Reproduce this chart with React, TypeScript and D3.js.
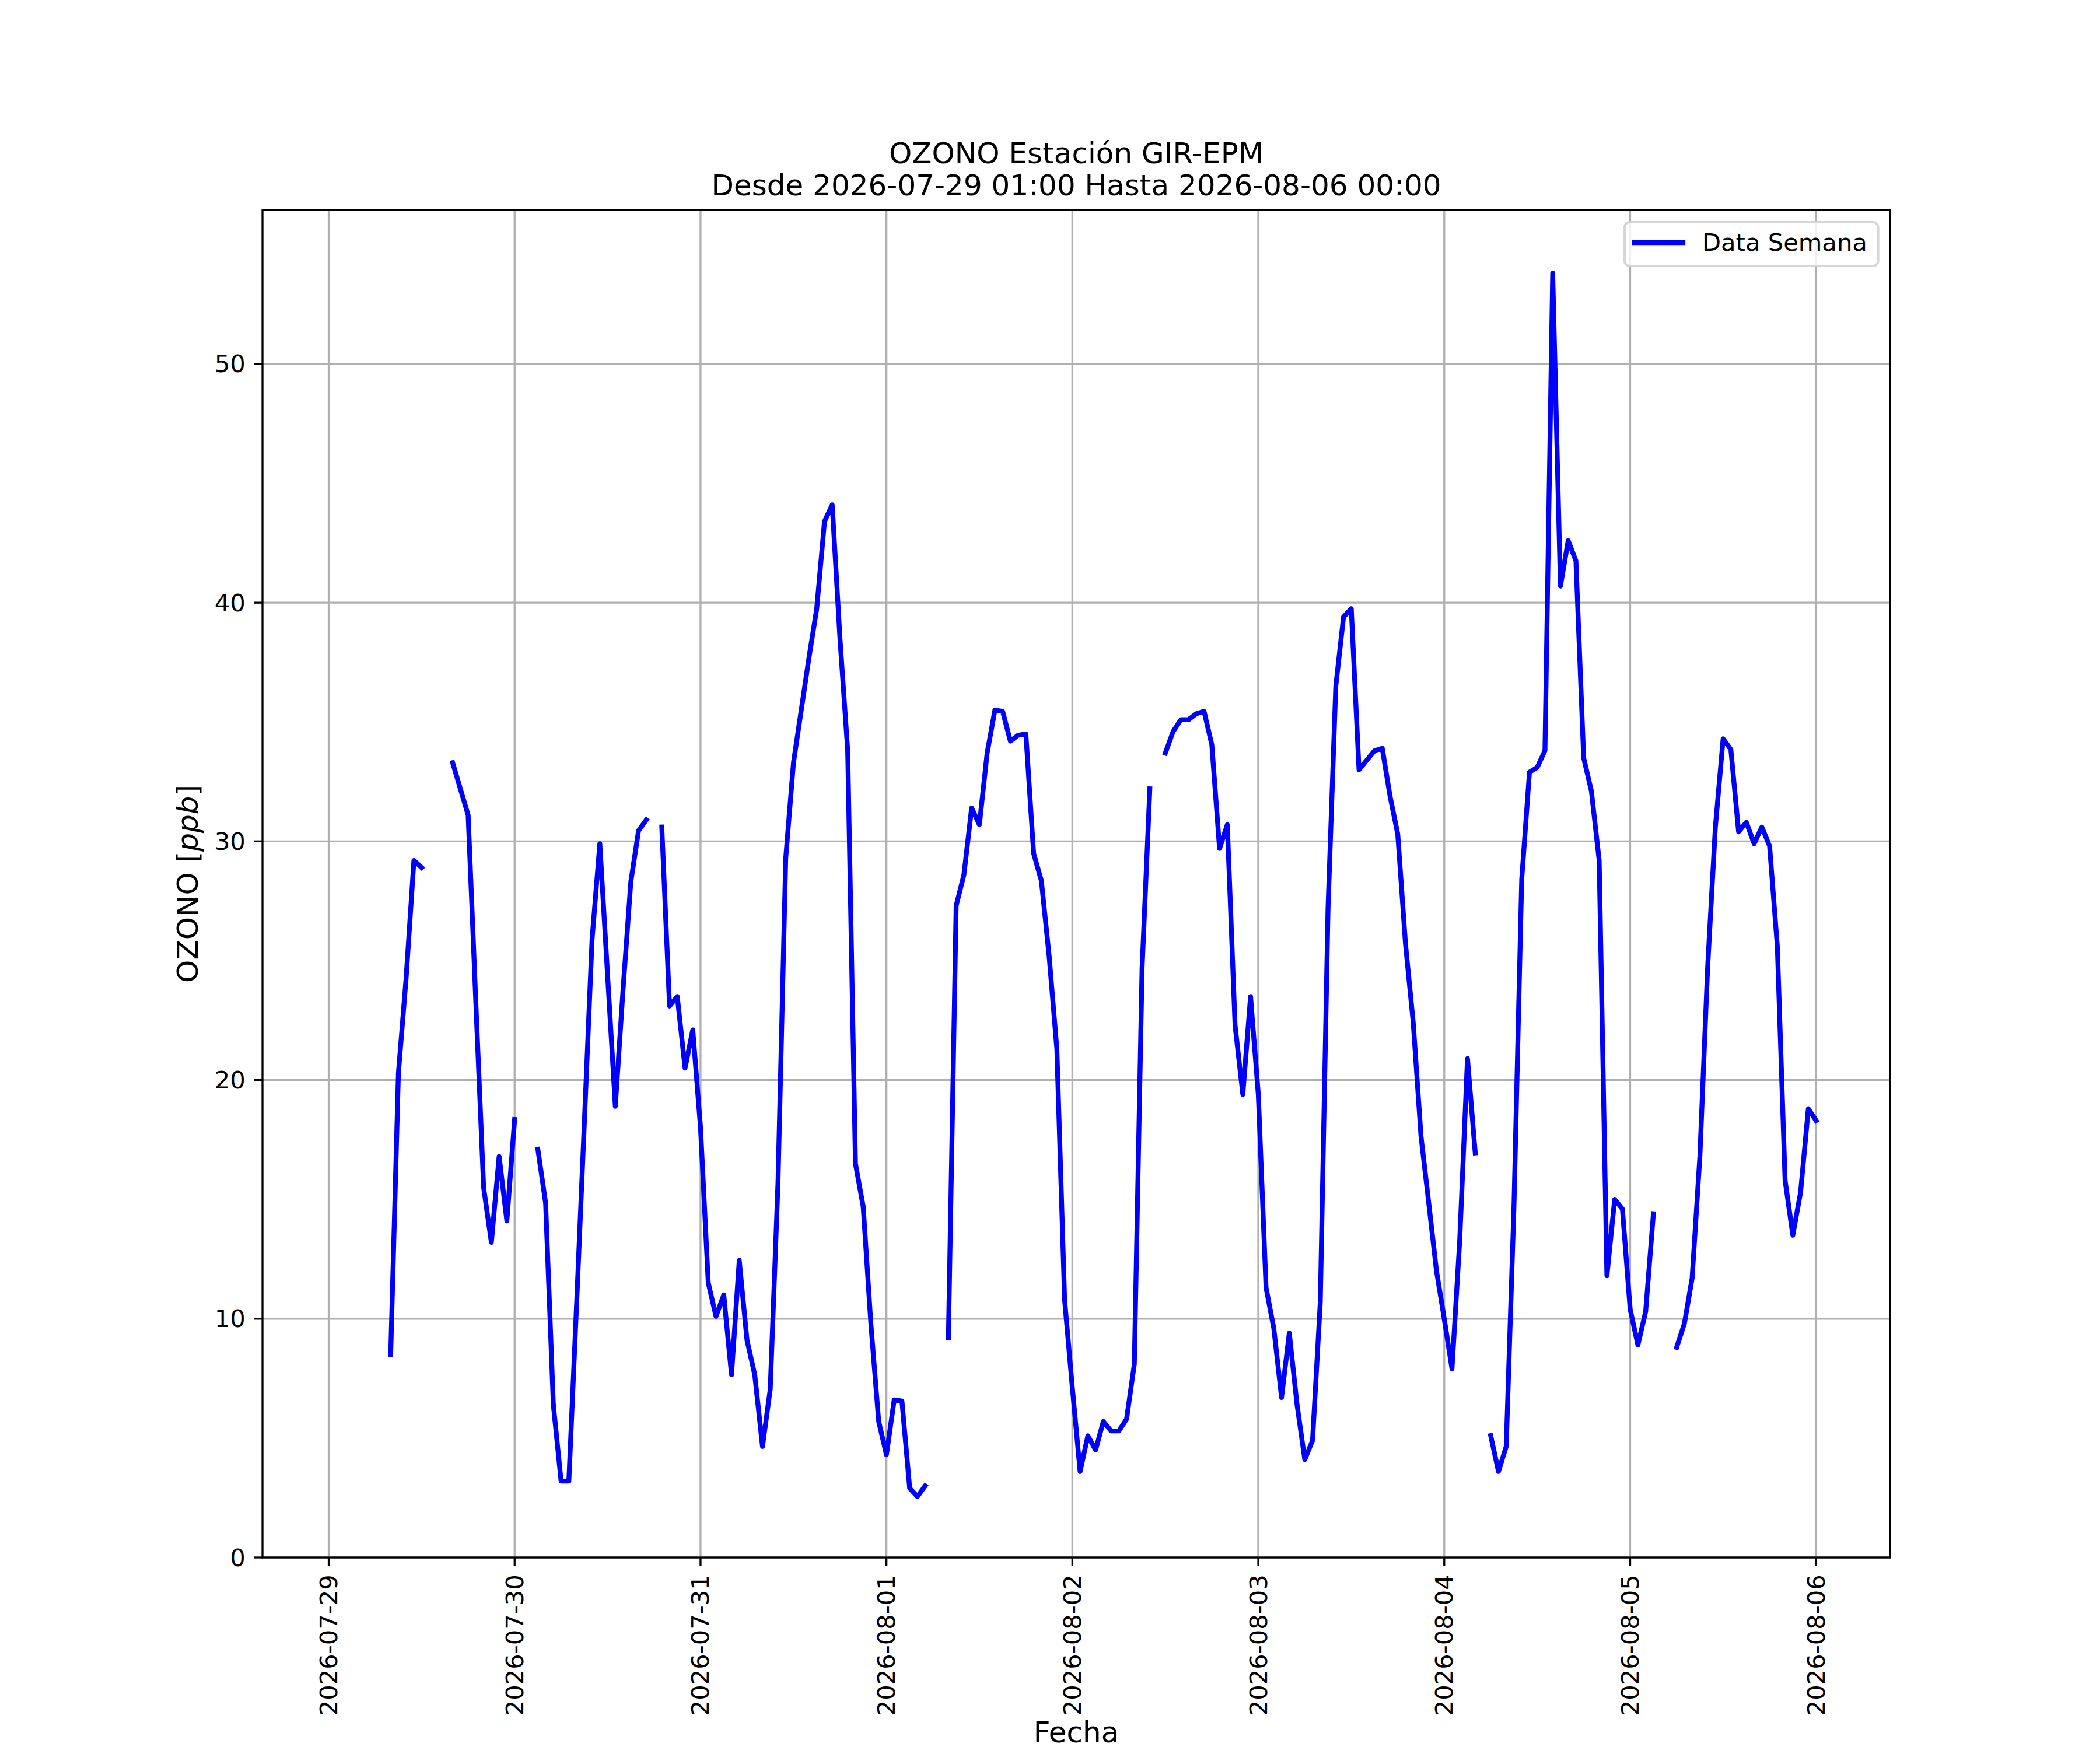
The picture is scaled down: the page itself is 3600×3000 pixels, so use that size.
import React from "react";
import * as d3 from "d3";

// ---- Data (hourly, starting 2026-07-29 01:00 UTC-naive) ----
const startTime = Date.UTC(2026, 6, 29, 1, 0);
const endTime = Date.UTC(2026, 7, 6, 0, 0);

// OZONO [ppb], one value per hour, null = missing
const ozoneValues: (number | null)[] = [
  // 07-29 01..07
  null, null, null, null, null, null, null,
  // 08..12
  8.5, 20.3, 24.3, 29.2, 28.9,
  // 13..15
  null, null, null,
  // 16..24
  33.3, 32.2, 31.1, 23.2, 15.5, 13.2, 16.8, 14.1, 18.35,
  // 07-30 01..02
  null, null,
  // 03..17
  17.1, 14.85, 6.4, 3.2, 3.2, 10.6, 18.2, 25.9, 29.9, 24.4, 18.9, 23.8, 28.3, 30.45, 30.9,
  // 18
  null,
  // 19..24
  30.6, 23.1, 23.5, 20.5, 22.1, 18.0,
  // 07-31 01..24
  11.5, 10.1, 11.0, 7.65, 12.45, 9.1, 7.65, 4.65, 7.05, 15.7, 29.3, 33.3,
  35.5, 37.7, 39.75, 43.4, 44.1, 38.5, 33.8, 16.5, 14.7, 9.75, 5.7, 4.3,
  // 08-01 01..05
  6.6, 6.55, 2.9, 2.55, 3.0,
  // 06..07
  null, null,
  // 08..24
  9.2, 27.3, 28.6, 31.4, 30.7, 33.7, 35.5, 35.45, 34.2, 34.45, 34.5, 29.5,
  28.35, 25.2, 21.3, 10.8, 7.1,
  // 08-02 01..10
  3.6, 5.1, 4.5, 5.7, 5.3, 5.3, 5.8, 8.1, 24.7, 32.2,
  // 11
  null,
  // 12..24
  33.7, 34.6, 35.1, 35.1, 35.35, 35.45, 34.05, 29.7, 30.7, 22.3, 19.4, 23.5, 19.4,
  // 08-03 01..24
  11.3, 9.6, 6.7, 9.4, 6.4, 4.1, 4.9, 10.7, 27.2, 36.5, 39.4, 39.75,
  33.0, 33.4, 33.8, 33.9, 31.9, 30.3, 25.7, 22.4, 17.65, 14.85, 12.0, 10.0,
  // 08-04 01..04
  7.9, 13.3, 20.9, 16.95,
  // 05
  null,
  // 06..24
  5.1, 3.6, 4.65, 14.7, 28.4, 32.9, 33.1, 33.8, 53.8, 40.7, 42.6, 41.75,
  33.5, 32.1, 29.2, 11.8, 15.0, 14.6, 10.4,
  // 08-05 01..03
  8.9, 10.3, 14.4,
  // 04..05
  null, null,
  // 06..24
  8.8, 9.8, 11.7, 16.8, 24.7, 30.6, 34.3, 33.85, 30.4, 30.8, 29.9, 30.6,
  29.8, 25.6, 15.8, 13.5, 15.3, 18.8, 18.3,
];

const yTicks = [0, 10, 20, 30, 40, 50];
const xTickDays = [
  "2026-07-29", "2026-07-30", "2026-07-31", "2026-08-01", "2026-08-02",
  "2026-08-03", "2026-08-04", "2026-08-05", "2026-08-06",
];

const titleLines = ["OZONO Estación GIR-EPM", "Desde 2026-07-29 01:00 Hasta 2026-08-06 00:00"];
const seriesLabel = "Data Semana";

type Pt = { t: Date; v: number | null };
const points: Pt[] = ozoneValues.map((v, i) => ({ t: new Date(startTime + i * 3600e3), v }));

// ---- Layout ----
const W = 3600;
const H = 3000;
const L = 450, R = 3240, T = 360, B = 2670;
const FONT = "DejaVu Sans";
const fs = 41.67;

export default function App() {
  const span = endTime - startTime;
  const x = d3
    .scaleUtc()
    .domain([new Date(startTime - span * 0.05), new Date(endTime + span * 0.05)])
    .range([L, R]);
  const y = d3.scaleLinear().domain([0, 56.45]).range([B, T]);

  const line = d3
    .line<Pt>()
    .defined((d) => d.v !== null)
    .x((d) => x(d.t))
    .y((d) => y(d.v as number));

  const xTicks = xTickDays.map((s) => {
    const [yy, mm, dd] = s.split("-").map(Number);
    return { label: s, t: new Date(Date.UTC(yy, mm - 1, dd)) };
  });

  const tickLen = 14.58;
  const lw = 3.33;

  // legend
  const lgL = 2785, lgR = 3219.5, lgT = 381, lgB = 456;
  const lgMid = 416;

  return (
    <svg
      width={W}
      height={H}
      viewBox={`0 0 ${W} ${H}`}
      style={{ position: "absolute", left: 0, top: 0, background: "#fff" }}
      fontFamily={FONT}
    >
      <rect x={0} y={0} width={W} height={H} fill="#fff" />
      {/* grid */}
      <g stroke="#b0b0b0" strokeWidth={lw}>
        {xTicks.map((d) => (
          <line key={d.label} x1={x(d.t)} x2={x(d.t)} y1={T} y2={B} />
        ))}
        {yTicks.map((v) => (
          <line key={v} x1={L} x2={R} y1={y(v)} y2={y(v)} />
        ))}
      </g>

      {/* data line */}
      <defs>
        <clipPath id="clip">
          <rect x={L} y={T} width={R - L} height={B - T} />
        </clipPath>
      </defs>
      <path
        d={line(points) || ""}
        fill="none"
        stroke="#0000ff"
        strokeWidth={8.33}
        strokeLinejoin="round"
        strokeLinecap="square"
        clipPath="url(#clip)"
      />

      {/* spines */}
      <rect x={L} y={T} width={R - L} height={B - T} fill="none" stroke="#000" strokeWidth={lw} />

      {/* y ticks */}
      {yTicks.map((v) => (
        <g key={v}>
          <line x1={L - tickLen} x2={L} y1={y(v)} y2={y(v)} stroke="#000" strokeWidth={lw} />
          <text
            x={L - tickLen - 14.58}
            y={y(v)}
            textAnchor="end"
            dominantBaseline="central"
            fontSize={fs}
            fill="#000"
          >
            {v}
          </text>
        </g>
      ))}

      {/* x ticks */}
      {xTicks.map((d) => (
        <g key={d.label}>
          <line x1={x(d.t)} x2={x(d.t)} y1={B} y2={B + tickLen} stroke="#000" strokeWidth={lw} />
          <text
            transform={`translate(${x(d.t)},${B + tickLen + 14.58}) rotate(-90)`}
            textAnchor="end"
            dominantBaseline="central"
            fontSize={fs}
            fill="#000"
          >
            {d.label}
          </text>
        </g>
      ))}

      {/* axis labels */}
      <text x={(L + R) / 2} y={2987} textAnchor="middle" fontSize={50} fill="#000">
        Fecha
      </text>
      <text transform={`translate(339,${(T + B) / 2}) rotate(-90)`} textAnchor="middle" fontSize={50} fill="#000">
        OZONO [<tspan fontStyle="italic">ppb</tspan>]
      </text>

      {/* title */}
      {titleLines.map((s, i) => (
        <text key={i} x={(L + R) / 2} y={280 + i * 55} textAnchor="middle" fontSize={50} fill="#000">
          {s}
        </text>
      ))}

      {/* legend */}
      <rect
        x={lgL}
        y={lgT}
        width={lgR - lgL}
        height={lgB - lgT}
        rx={8.3}
        ry={8.3}
        fill="#fff"
        fillOpacity={0.8}
        stroke="#cccccc"
        strokeOpacity={0.8}
        strokeWidth={4.17}
      />
      <line x1={2802} x2={2885} y1={lgMid} y2={lgMid} stroke="#0000ff" strokeWidth={8.33} strokeLinecap="square" />
      <text x={2918} y={430} fontSize={fs} fill="#000">
        {seriesLabel}
      </text>
    </svg>
  );
}
